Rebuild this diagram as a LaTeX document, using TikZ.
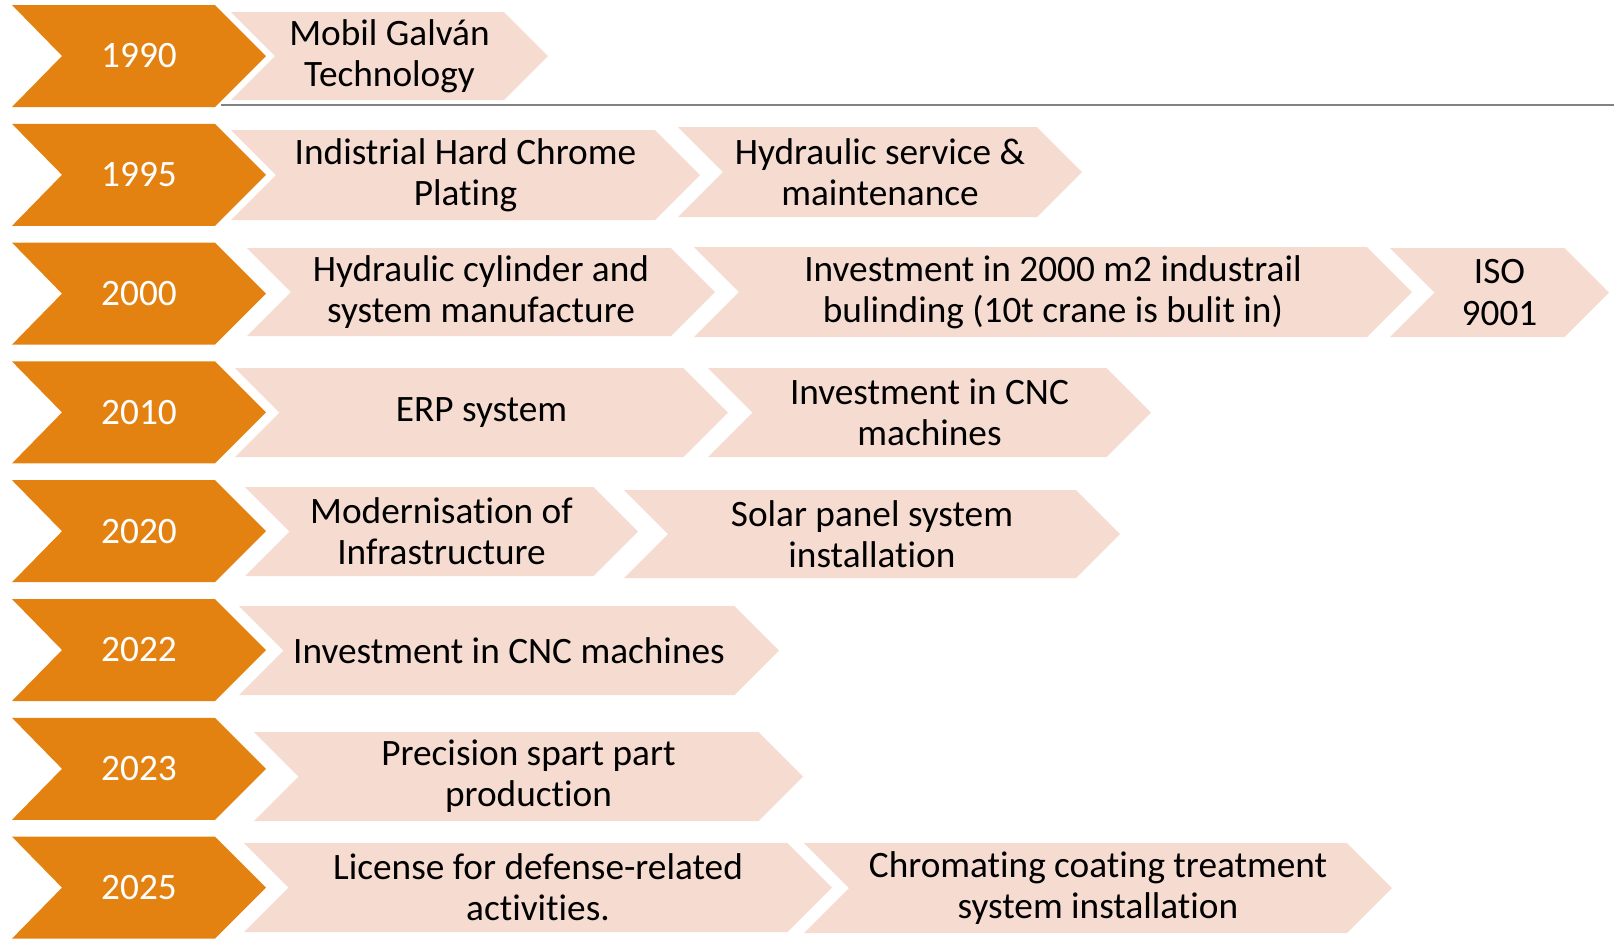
\documentclass[tikz,border=0pt]{standalone}
\usepackage{fontspec}
\setmainfont{Carlito}[Ligatures={NoCommon}]
\usepackage{tikz}
\usetikzlibrary{positioning}
\definecolor{darkorange}{RGB}{228,130,17}
\definecolor{peach}{RGB}{245,219,208}
\definecolor{rulegray}{RGB}{130,130,130}
\tikzset{%
    yearbox/.style={fill=darkorange,draw=none},
    eventbox/.style={fill=peach,draw=none},
    yeartext/.style={text=white,align=center,font=\fontsize{10.6}{11.7}\selectfont},
    eventtext/.style={text=black,align=center,font=\fontsize{10.6}{11.7}\selectfont}
}
% chevron for one event: name, left, tip, top, bottom, text
\newcommand{\evchev}[6]{%
    \fill[eventbox] (#2,#4) -- ({#3-(#5-#4)/2},#4) -- (#3,{(#4+#5)/2})
        -- ({#3-(#5-#4)/2},#5) -- (#2,#5) -- ({#2+(#5-#4)/2},{(#4+#5)/2}) -- cycle;
    \node[eventtext] (#1) at ({(#2+#3)/2},{(#4+#5)/2}) {#6};}

\begin{document}
\begin{tikzpicture}[x=0.01cm,y=-0.01cm]
\useasboundingbox (0,0) rectangle (1614,944);
\foreach \yr [count=\i from 0] in {1990,1995,2000,2010,2020,2022,2023,2025}{
    \pgfmathsetmacro\cy{56+118.8*\i}
    \fill[yearbox] (12,\cy-51) -- (215,\cy-51) -- (266,\cy) -- (215,\cy+51) -- (12,\cy+51) -- (62,\cy) -- cycle;
    \node[yeartext] (y\yr) at (139,\cy) {\yr};
}
\coordinate (rulestart) at (221,105);
\coordinate (ruleend) at (1614,105);
\draw[rulegray,line width=0.5pt] (rulestart) -- (ruleend);
\evchev{mobil}{231}{548}{12}{100}{Mobil Galván\\Technology}
\evchev{chrome}{231}{700}{130}{220}{Indistrial Hard Chrome\\Plating}
\evchev{service}{678}{1082}{127}{217}{Hydraulic service \&\\maintenance}
\evchev{cylinder}{247}{715}{248}{336}{Hydraulic cylinder and\\system manufacture}
\evchev{building}{694}{1412}{247}{337}{Investment in 2000 m2 industrail\\bulinding (10t crane is bulit in)}
\evchev{iso}{1390}{1609}{248}{337}{ISO\\9001}
\evchev{erp}{235}{728}{368}{457}{ERP system}
\evchev{cncA}{708}{1151}{368}{457}{Investment in CNC\\machines}
\evchev{modern}{245}{638}{487}{576}{Modernisation of\\Infrastructure}
\evchev{solar}{624}{1120}{490}{578}{Solar panel system\\installation}
\evchev{cncB}{239}{779}{606}{695}{Investment in CNC machines}
\evchev{spare}{254}{803}{732}{821}{Precision spart part\\production}
\evchev{license}{244}{832}{843}{932}{License for defense-related\\activities.}
\evchev{chromating}{804}{1392}{843}{933}{Chromating coating treatment\\system installation}
\end{tikzpicture}
\end{document}
